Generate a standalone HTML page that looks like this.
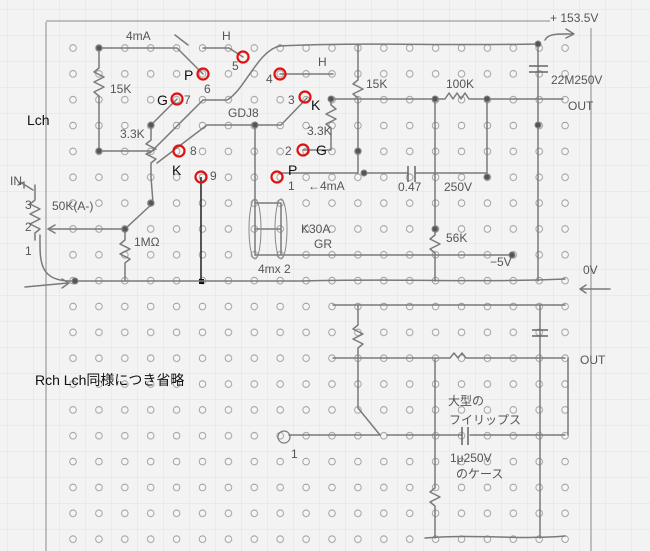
<!DOCTYPE html>
<html><head><meta charset="utf-8"><style>
html,body{margin:0;padding:0;background:#f3f3f3;}
svg{display:block}
.w{fill:none;stroke:#7a7a7a;stroke-width:1.5;stroke-linecap:round;stroke-linejoin:round}
.t{font-family:"Liberation Sans",sans-serif;fill:#555;font-size:12px}
.b{font-family:"Liberation Sans",sans-serif;fill:#111;font-size:14px}
.r{fill:none;stroke:#e01010;stroke-width:2.2}
.n{fill:#555;stroke:#888}
</style></head><body>
<svg width="650" height="551" viewBox="0 0 650 551" xmlns="http://www.w3.org/2000/svg">
<defs>
<pattern id="g" x="8" y="10" width="26" height="26" patternUnits="userSpaceOnUse">
<path d="M26 0V26M0 26H26" stroke="#e2e2e2" stroke-width="1" fill="none"/>
</pattern>
<pattern id="d" x="60" y="35" width="25.9" height="25.85" patternUnits="userSpaceOnUse">
<circle cx="13" cy="13" r="3.3" fill="#f6f6f6" stroke="#999" stroke-width="0.9"/>
</pattern>
</defs>
<rect width="650" height="551" fill="#f3f3f3"/>
<rect width="650" height="551" fill="url(#g)"/>
<rect x="60" y="35" width="518" height="517" fill="url(#d)"/>
<!-- frame -->
<path d="M46 22V551M46 21H550M591 28V551" stroke="#888" stroke-width="1" fill="none"/>
<!-- top-left wires -->
<path class="w" d="M99 48H177L203 74"/>
<path class="w" d="M99 48V68l-5 4 10 5-10 5 10 5-10 5 5 4V151H151"/>
<path class="w" d="M151 125L177 99"/>
<path class="w" d="M151 125V140l-5 4 10 5-10 5 10 5-5 4V177L153 203L125 229"/>
<path class="w" d="M48 229H125V240l-5 4 10 5-10 5 10 5-5 4V281"/>
<path class="w" d="M150 153L203 100H227C245 90 258 50 280 46"/>
<path class="w" d="M157 163L207 125H281L307 98"/>
<path class="w" d="M203 48H229L243 57"/>
<path class="w" d="M280 74H333"/>
<path class="w" d="M255 125V255"/>
<path class="w" d="M255 203H281M255 229H281M255 255H512M281 203V255"/>
<ellipse cx="255" cy="229" rx="6" ry="30" fill="none" stroke="#888"/>
<ellipse cx="281" cy="229" rx="6" ry="30" fill="none" stroke="#888"/>
<path d="M201 177V281" stroke="#222" stroke-width="1.5"/>
<rect x="199" y="279" width="5" height="5" fill="#111"/>
<!-- right top -->
<path class="w" d="M280 46C350 42 450 46 538 44"/>
<path class="w" d="M358 44V80l-5 4 10 5-10 5 5 4V173H279"/>
<path class="w" d="M303 150H331V128l-5-4 10-5-10-5 10-5-5-4V99H435"/>
<path class="w" d="M435 99H445l4-6 4 6 4-6 4 6 4-6 4 6H487H563"/>
<path class="w" d="M364 173H408M416 173H487V99"/>
<path d="M408 166V182M415 166V182" stroke="#666" stroke-width="1.5"/>
<path class="w" d="M435 99V235l-5 4 10 5-10 5 5 4V281"/>
<path class="w" d="M538 44V281"/>
<path d="M529 66H548M529 72H548" stroke="#666" stroke-width="1.5"/>
<path class="w" d="M545 40C548 33 560 34 573 34M566 29L574 34 566 38"/>
<!-- 0V -->
<path class="w" d="M40 235C40 260 38 282 73 281H300C400 278 470 283 565 279"/>
<path class="w" d="M25 287L68 283M62 279L69 283 62 288"/>
<path class="w" d="M580 289H610M586 285L580 289 586 293"/>
<!-- pot -->
<path class="w" d="M35 185V200l-5 4 10 5-10 5 10 5-10 5 10 5-5 4V240"/>
<path class="w" d="M20 182L33 190M18 185l6-3 0 6"/>
<path class="w" d="M48 229l7-4M48 229l7 4"/>
<!-- nodes -->
<g class="n"><circle cx="99" cy="48" r="3"/><circle cx="99" cy="151" r="3"/><circle cx="151" cy="125" r="3"/><circle cx="151" cy="203" r="3"/><circle cx="125" cy="229" r="3"/><circle cx="255" cy="125" r="3"/><circle cx="358" cy="151" r="3"/><circle cx="364" cy="173" r="3"/><circle cx="331" cy="99" r="3"/><circle cx="435" cy="99" r="3"/><circle cx="487" cy="99" r="3"/><circle cx="487" cy="177" r="3"/><circle cx="512" cy="255" r="3"/><circle cx="538" cy="44" r="3"/><circle cx="538" cy="125" r="3"/><circle cx="435" cy="229" r="3"/><circle cx="75" cy="281" r="3"/></g>
<!-- red -->
<g class="r"><circle cx="203" cy="74" r="5.5"/><circle cx="243" cy="57" r="5.5"/><circle cx="177" cy="99" r="5.5"/><circle cx="280" cy="74" r="5.5"/><circle cx="305" cy="97" r="5.5"/><circle cx="179" cy="151" r="5.5"/><circle cx="303" cy="150" r="5.5"/><circle cx="201" cy="177" r="5.5"/><circle cx="277" cy="177" r="5.5"/></g>
<!-- bottom -->
<path class="w" d="M333 305H565"/>
<path class="w" d="M358 305V325l-5 4 10 5-10 5 10 5-5 4V408L380 435"/>
<path class="w" d="M333 358H450l4-5 4 5 4-5 4 5H565"/>
<path class="w" d="M435 358V488l-5 4 10 5-10 5 5 4V538"/>
<path class="w" d="M540 305V538"/>
<path d="M532 330H548M532 336H548" stroke="#666" stroke-width="1.5"/>
<path class="w" d="M568 358V435"/>
<path class="w" d="M289 435H380M387 435H462M470 435H565"/>
<path d="M462 427V445M468 427V445" stroke="#666" stroke-width="1.5"/>
<circle cx="284" cy="437" r="6" fill="none" stroke="#777" stroke-width="1.2"/>
<path class="w" d="M425 538C480 534 520 540 565 536"/>
<!-- text -->
<text class="t" x="126" y="40">4mA</text><path class="w" d="M175 35L188 45"/>
<text class="t" x="222" y="40" font-size="10">H</text>
<text class="t" x="318" y="66" font-size="10">H</text>
<text class="t" x="110" y="93">15K</text>
<text class="b" x="184" y="80">P</text><text class="t" x="204" y="93">6</text>
<text class="t" x="232" y="70">5</text><text class="t" x="266" y="83">4</text>
<text class="b" x="157" y="105">G</text><text class="t" x="184" y="104">7</text>
<text class="t" x="120" y="138">3.3K</text>
<text class="t" x="228" y="117">GDJ8</text>
<text class="t" x="190" y="155">8</text><text class="b" x="172" y="175">K</text>
<text class="t" x="210" y="180">9</text>
<text class="t" x="288" y="104">3</text><text class="b" x="311" y="110">K</text>
<text class="t" x="307" y="135">3.3K</text>
<text class="t" x="285" y="155">2</text><text class="b" x="316" y="155">G</text>
<text class="b" x="288" y="175">P</text><text class="t" x="288" y="190">1</text>
<text class="t" x="308" y="190">←4mA</text>
<text class="t" x="366" y="88">15K</text>
<text class="t" x="446" y="88">100K</text>
<text class="t" x="551" y="84">22M250V</text>
<text class="t" x="568" y="110" font-size="11">OUT</text>
<text class="t" x="550" y="22">+ 153.5V</text>
<text class="t" x="398" y="191">0.47</text><text class="t" x="444" y="191">250V</text>
<text class="t" x="446" y="242">56K</text>
<text class="t" x="490" y="266">−5V</text>
<text class="t" x="583" y="274">0V</text>
<text class="t" x="301" y="233">K30A</text><text class="t" x="314" y="248">GR</text>
<text class="t" x="258" y="273">4mx 2</text>
<text class="t" x="52" y="210">50K(A-)</text>
<text class="t" x="134" y="246">1MΩ</text>
<text class="t" x="10" y="185" font-size="11">IN</text>
<text class="t" x="25" y="209">3</text><text class="t" x="25" y="231">2</text><text class="t" x="25" y="255">1</text>
<text class="b" x="27" y="125" font-size="13">Lch</text>
<text class="b" x="35" y="385" font-size="14">Rch  Lch同様につき省略</text>
<text class="t" x="580" y="364" font-size="11">OUT</text>
<text class="t" x="448" y="405" font-family="Noto Sans CJK JP">大型の</text>
<text class="t" x="449" y="424" font-size="11" font-family="Noto Sans CJK JP">フイリップス</text>
<text class="t" x="450" y="462" font-size="11">1μ250V</text>
<text class="t" x="456" y="478" font-size="11" font-family="Noto Sans CJK JP">のケース</text>
<text class="t" x="291" y="458" font-size="10">1</text>
</svg>
</body></html>
